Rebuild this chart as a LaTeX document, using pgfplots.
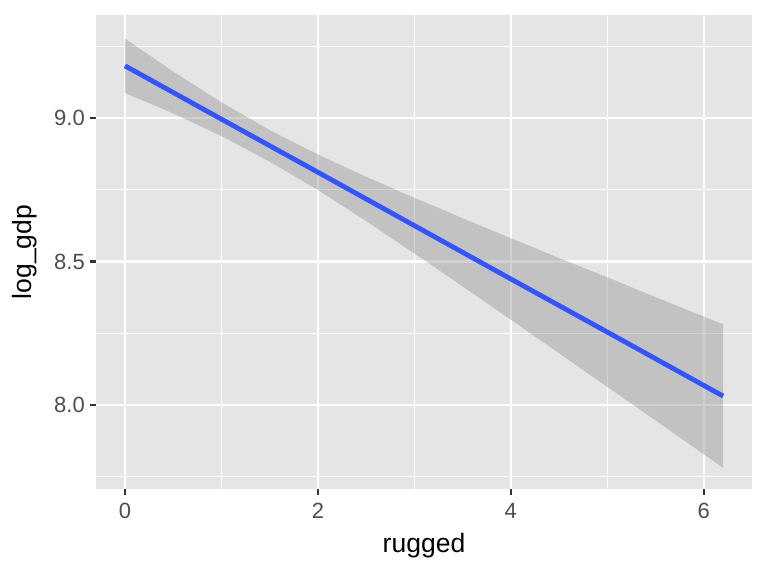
\documentclass[border=0pt]{standalone}
\usepackage{pgfplots}
\pgfplotsset{compat=1.18}
\usepackage{fontspec}
\setmainfont{Liberation Sans}
\definecolor{panelbg}{HTML}{E5E5E5}
\definecolor{ticktext}{HTML}{4D4D4D}
\definecolor{tickcol}{HTML}{333333}
\definecolor{smoothblue}{HTML}{3355FF}
\definecolor{bandgray}{HTML}{999999}
\begin{document}
\begin{tikzpicture}
\path[use as bounding box] (0,0) rectangle (768pt,576pt);
\begin{axis}[
  at={(96pt,87pt)}, anchor=south west,
  width=656pt, height=474pt, scale only axis,
  xmin=-0.30, xmax=6.50, ymin=7.707, ymax=9.359,
  axis background/.style={fill=panelbg},
  axis line style={draw=none},
  xtick={0,2,4,6}, xticklabels={0,2,4,6},
  ytick={8,8.5,9}, yticklabels={8.0,8.5,9.0},
  minor xtick={1,3,5}, minor ytick={7.75,8.25,8.75,9.25},
  grid=both,
  major grid style={white, line width=2.2pt},
  minor grid style={white, line width=1.1pt},
  tick align=outside, xtick pos=bottom, ytick pos=left,
  major tick length=6pt, minor tick length=0pt,
  major tick style={draw=tickcol, line width=2.2pt},
  minor tick style={draw=none},
  /pgf/number format/assume math mode=true,
  ticklabel style={font=\fontsize{22}{26}\selectfont, text=ticktext, inner sep=0pt},
  xticklabel style={anchor=north, yshift=-8pt},
  yticklabel style={anchor=east, xshift=-5pt},
  xlabel={rugged}, ylabel={log\_gdp},
  label style={font=\fontsize{26.5}{30}\selectfont, text=black, inner sep=0pt},
  xlabel style={at={(axis description cs:0.5,-0.135)}, anchor=base},
  ylabel style={at={(axis description cs:-0.099,0.5)}, rotate=0, anchor=base},
  clip=false,
]
% confidence band (upper edge left to right, lower edge right to left)
\addplot[draw=none, fill=bandgray, fill opacity=0.45] coordinates {
  (0,9.277) (0.5,9.162) (1,9.055) (1.5,8.958) (2,8.873) (2.5,8.795)
  (3,8.722) (3.5,8.651) (4,8.581) (4.5,8.512) (5,8.445) (5.5,8.376)
  (6,8.308) (6.2,8.281)
  (6.2,7.781) (6,7.828) (5.5,7.946) (5,8.063) (4.5,8.180) (4,8.297)
  (3.5,8.413) (3,8.528) (2.5,8.641) (2,8.749) (1.5,8.848) (1,8.937)
  (0.5,9.016) (0,9.087)
} -- cycle;
% fitted line
\addplot[smoothblue, line width=4.8pt, line cap=butt] coordinates {
  (0,9.182) (1,8.996) (2,8.811) (3,8.625) (4,8.439) (5,8.254) (6,8.068) (6.2,8.031)
};
\end{axis}
\end{tikzpicture}
\end{document}
